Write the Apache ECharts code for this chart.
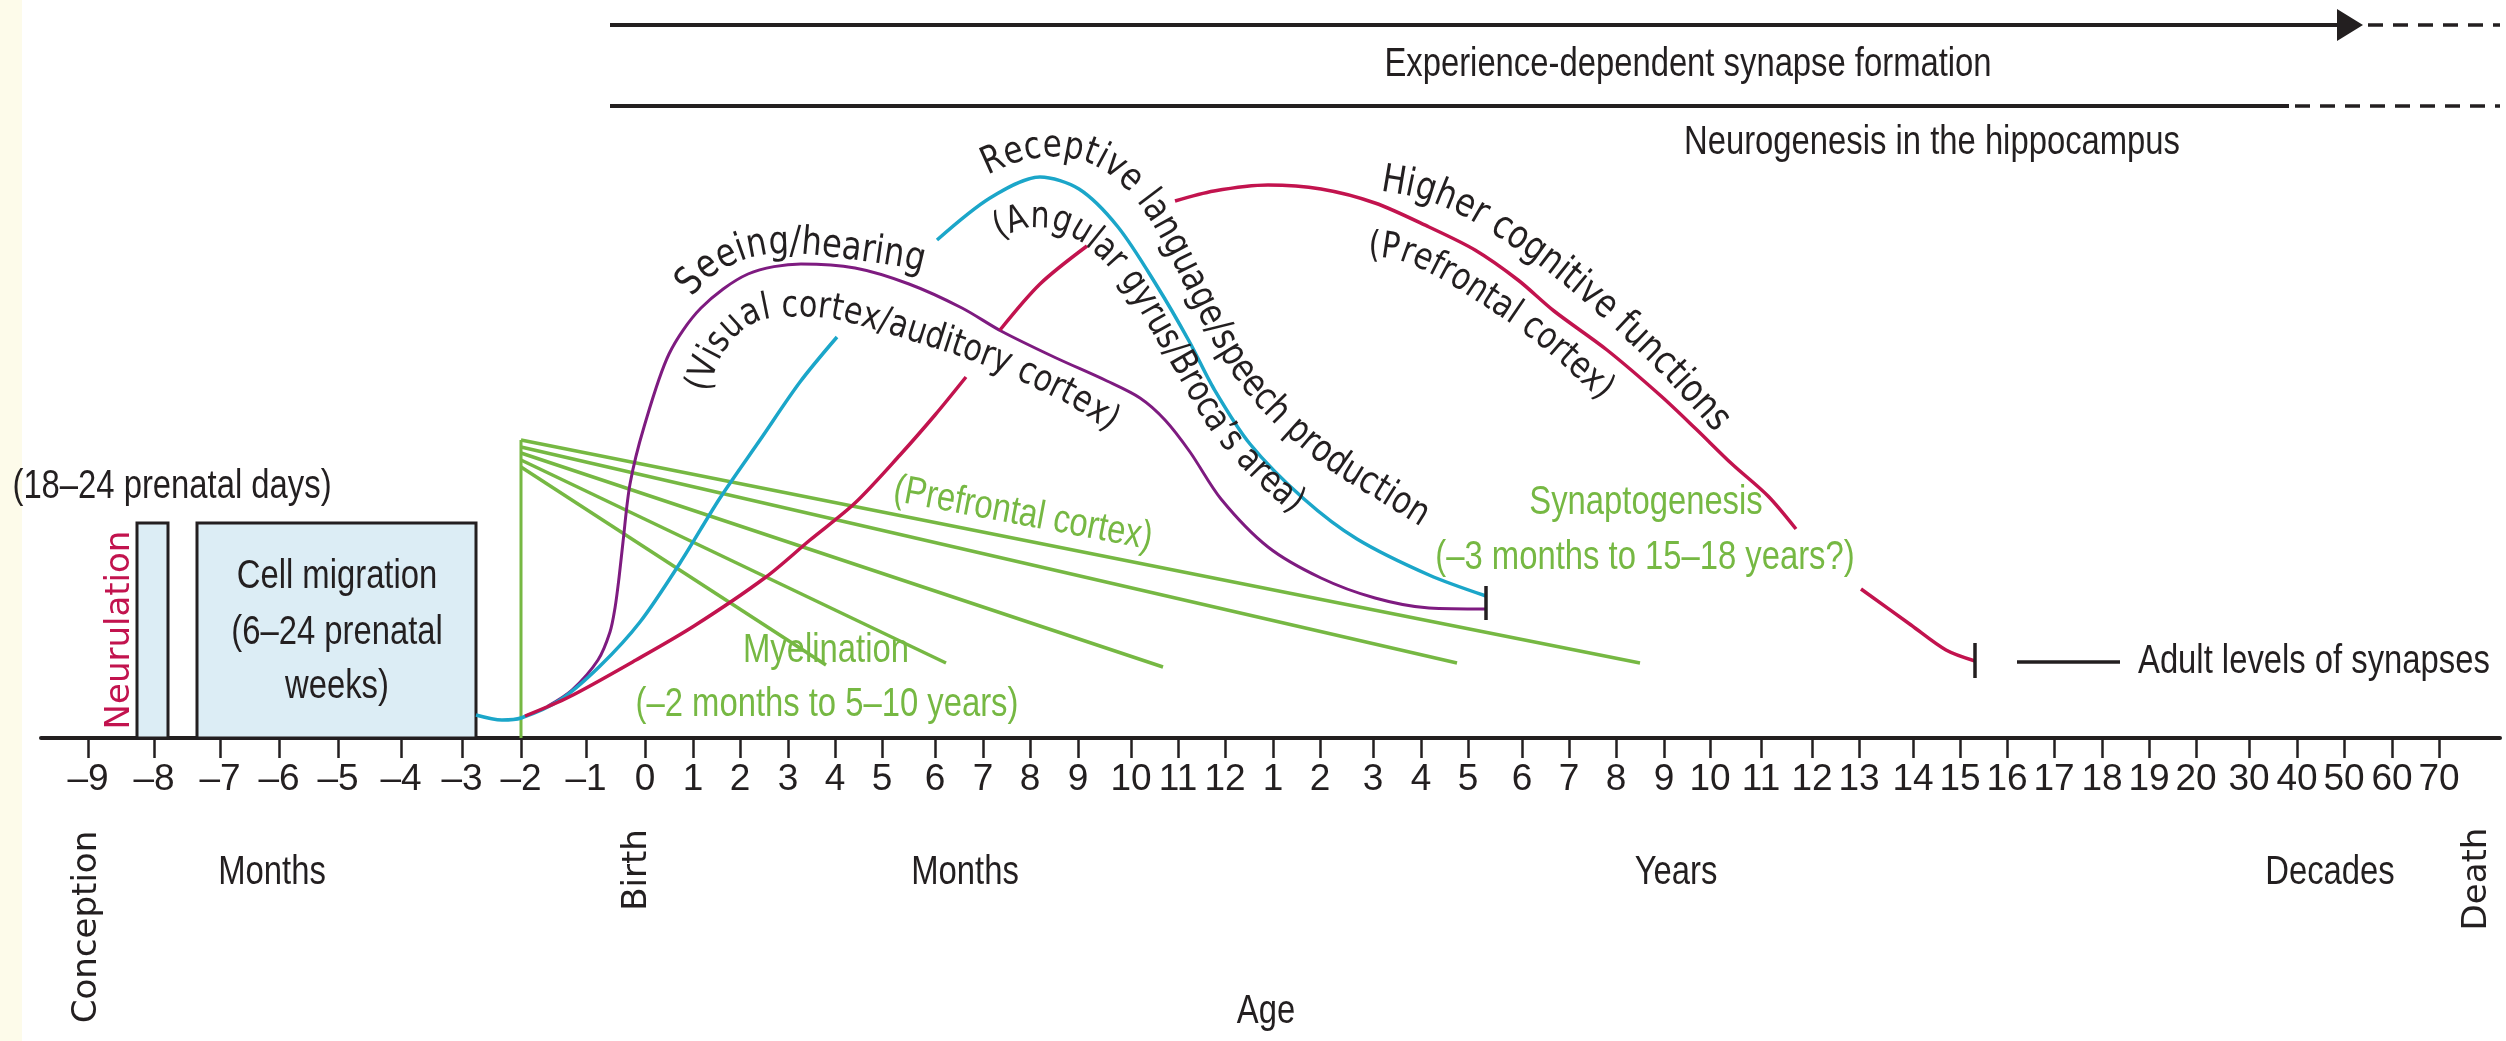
<!DOCTYPE html>
<html>
<head>
<meta charset="utf-8">
<script src="https://cdn.jsdelivr.net/npm/echarts@6/dist/echarts.min.js"></script>
<style>
  html, body { margin: 0; padding: 0; background: #fff; }
  #main { width: 2506px; height: 1041px; }
</style>
</head>
<body>
<div id="main"></div>
<script>
// x = position along the (schematic, non-linear) age axis, y = synapse level above baseline
const tickPos = [88, 154, 220, 279, 338, 401, 462, 521, 586, 645, 693, 740, 788, 835, 882, 935, 983, 1030,
  1078, 1131, 1178, 1225, 1273, 1320, 1373, 1421, 1468, 1522, 1569, 1616, 1664, 1710, 1761, 1812, 1859, 1913,
  1960, 2007, 2054, 2102, 2149, 2196, 2249, 2297, 2344, 2392, 2439];
const tickLabels = ['–9', '–8', '–7', '–6', '–5', '–4', '–3', '–2', '–1', '0', '1', '2', '3', '4', '5', '6', '7', '8',
  '9', '10', '11', '12', '1', '2', '3', '4', '5', '6', '7', '8', '9', '10', '11', '12', '13', '14',
  '15', '16', '17', '18', '19', '20', '30', '40', '50', '60', '70'];

// prenatal boxes: [start, end, height]
const boxes = [[137, 168, 215], [197, 476, 215]];

// seeing/hearing (visual/auditory cortex)
const seeing = [[548, 32], [572, 48], [598, 78], [610, 106], [615, 130], [619, 160], [623, 196], [630, 254],
  [644, 311], [669, 384], [701, 430], [748, 464], [801, 474], [855, 470], [909, 454], [962, 430], [1001, 407],
  [1054, 381], [1107, 357], [1140, 340], [1165, 318], [1190, 286], [1221, 239], [1268, 191], [1321, 160],
  [1375, 140], [1429, 130], [1486, 129]];

// receptive language (two pieces, broken by the label)
const language = [
  [[476, 23], [502, 18], [521, 20], [560, 38], [600, 72], [640, 116], [680, 175], [720, 240], [760, 298],
   [800, 356], [837, 401]],
  [[937, 498], [990, 540], [1040, 561], [1079, 549], [1118, 511], [1157, 452], [1189, 397], [1214, 349],
   [1250, 294], [1304, 239], [1357, 199], [1429, 163], [1486, 142]]
];

// higher cognitive functions (prefrontal cortex)
const cognitive = [
  [[525, 22], [569, 41], [636, 78], [694, 112], [766, 161], [810, 198], [855, 235], [900, 283], [935, 323],
   [966, 361]],
  [[1000, 408], [1040, 454], [1087, 492]],
  [[1175, 537], [1214, 547], [1268, 553], [1321, 549], [1375, 535], [1429, 511], [1475, 488], [1518, 458],
   [1554, 427], [1607, 388], [1661, 342], [1696, 309], [1732, 274], [1768, 242], [1796, 209]],
  [[1861, 149], [1911, 113], [1946, 88], [1975, 77]]
];

// myelination fan: start level on the -2 month line, end point
const myelinStart = [298, 291, 285, 278, 271];
const myelinEnd = [[1640, 75], [1457, 75], [1163, 71], [946, 75], [826, 73]];
const myelinStem = [[521, 0], [521, 298]];

const endBars = [[[1486, 118], [1486, 152]], [[1975, 60], [1975, 95]]];
const adultLine = [[2017, 76], [2120, 76]];
const experienceLine = [[610, 713], [2350, 713]];
const experienceDash = [[2368, 713], [2500, 713]];
const neuroLine = [[610, 632], [2289, 632]];
const neuroDash = [[2295, 632], [2500, 632]];

const PURPLE = '#7e1b80', CYAN = '#1ba6c9', RED = '#c2134e', GREEN = '#76b843', INK = '#231f20';
const SANS = "'Liberation Sans', Arial, sans-serif";
const WIDE = "'DejaVu Sans', 'Open Sans', sans-serif";
const SQUEEZE = 0.82;

const chart = echarts.init(document.getElementById('main'));

const series = [];
function addLine(data, color, width, extra) {
  series.push(Object.assign({
    type: 'line', data: data, symbol: 'none', silent: true, z: 3,
    lineStyle: { color: color, width: width }
  }, extra || {}));
}

series.push({
  type: 'custom', data: boxes, encode: { x: [0, 1], y: 2 }, silent: true, z: 1,
  renderItem: function (params, api) {
    const a = api.coord([api.value(0), api.value(2)]);
    const b = api.coord([api.value(1), 0]);
    return {
      type: 'rect',
      shape: { x: a[0], y: a[1], width: b[0] - a[0], height: b[1] - a[1] },
      style: { fill: '#dcedf5', stroke: INK, lineWidth: 3 }
    };
  }
});

addLine(myelinStem, GREEN, 3);
myelinEnd.forEach(function (e, i) { addLine([[521, myelinStart[i]], e], GREEN, 3.5); });

addLine(seeing, PURPLE, 3, { smooth: 0.3 });
language.forEach(function (s) { addLine(s, CYAN, 3.5, { smooth: 0.3 }); });
cognitive.forEach(function (s) { addLine(s, RED, 3.5, { smooth: 0.3 }); });

endBars.forEach(function (b) { addLine(b, INK, 3.5); });
addLine(adultLine, INK, 3.5);

addLine([experienceLine[0], {
  value: experienceLine[1], symbol: 'triangle', symbolRotate: -90, symbolSize: [32, 26],
  itemStyle: { color: INK }
}], INK, 4, { showSymbol: true, symbol: 'none' });
addLine(experienceDash, INK, 3.5, { lineStyle: { color: INK, width: 3.5, type: [15, 10] } });
addLine(neuroLine, INK, 4);
addLine(neuroDash, INK, 3.5, { lineStyle: { color: INK, width: 3.5, type: [15, 10] } });

// text laid along a curve (annotation layout, in pixels)
const measureCtx = document.createElement('canvas').getContext('2d');
function textOnPath(str, pts, family, baseSize, fill) {
  const dense = [];
  for (let i = 0; i < pts.length - 1; i++) {
    const p0 = pts[Math.max(i - 1, 0)], p1 = pts[i], p2 = pts[i + 1], p3 = pts[Math.min(i + 2, pts.length - 1)];
    for (let j = 0; j < 20; j++) {
      const t = j / 20, t2 = t * t, t3 = t2 * t;
      const cr = function (a, b, c, d) {
        return 0.5 * (2 * b + (-a + c) * t + (2 * a - 5 * b + 4 * c - d) * t2 + (-a + 3 * b - 3 * c + d) * t3);
      };
      dense.push([cr(p0[0], p1[0], p2[0], p3[0]), cr(p0[1], p1[1], p2[1], p3[1])]);
    }
  }
  dense.push(pts[pts.length - 1]);
  const cum = [0];
  for (let i = 1; i < dense.length; i++) {
    cum.push(cum[i - 1] + Math.hypot(dense[i][0] - dense[i - 1][0], dense[i][1] - dense[i - 1][1]));
  }
  const L = cum[cum.length - 1];
  measureCtx.font = baseSize + 'px ' + family;
  const chars = Array.from(str);
  const w0 = chars.map(function (c) { return measureCtx.measureText(c).width * SQUEEZE; });
  const W = w0.reduce(function (a, b) { return a + b; }, 0);
  const k = L / W;
  const fs = baseSize * k;
  const out = [];
  let acc = 0;
  chars.forEach(function (c, i) {
    const w = w0[i] * k;
    const s = acc + w / 2;
    acc += w;
    let j = 1;
    while (j < cum.length - 1 && cum[j] < s) j++;
    const a = dense[j - 1], b = dense[j];
    const f = (s - cum[j - 1]) / ((cum[j] - cum[j - 1]) || 1);
    const x = a[0] + (b[0] - a[0]) * f, y = a[1] + (b[1] - a[1]) * f;
    const ang = Math.atan2(b[1] - a[1], b[0] - a[0]);
    const off = fs * 0.3;
    out.push({
      type: 'text', x: x + Math.sin(ang) * off, y: y - Math.cos(ang) * off, rotation: -ang, scaleX: SQUEEZE,
      silent: true, z: 10,
      style: { text: c, fontSize: fs, fontFamily: family, fill: fill, align: 'center', verticalAlign: 'middle' }
    });
  });
  return out;
}

function label(text, x, y, opts) {
  opts = opts || {};
  return {
    type: 'text', x: x, y: y, rotation: opts.rotation || 0, scaleX: opts.scaleX || SQUEEZE,
    silent: true, z: 10,
    style: {
      text: text, fontSize: opts.size || 40, fontFamily: opts.family || SANS, fill: opts.color || INK,
      align: opts.align || 'center', verticalAlign: 'middle'
    }
  };
}

const vertical = { rotation: Math.PI / 2, family: WIDE, size: 34, scaleX: 1 };

const graphics = [
  { type: 'rect', shape: { x: 0, y: 0, width: 22, height: 1041 }, style: { fill: '#fdfbea' }, silent: true, z: 0 },
  label('(18–24 prenatal days)', 172, 487),
  label('Cell migration', 337, 577),
  label('(6–24 prenatal', 337, 633),
  label('weeks)', 337, 687),
  label('Neurulation', 120, 630, Object.assign({}, vertical, { color: RED })),
  label('Conception', 87, 927, vertical),
  label('Birth', 637, 870, vertical),
  label('Death', 2477, 879, vertical),
  label('Months', 272, 873),
  label('Months', 965, 873),
  label('Years', 1676, 873),
  label('Decades', 2330, 873),
  label('Age', 1266, 1012),
  label('Experience-dependent synapse formation', 1688, 65),
  label('Neurogenesis in the hippocampus', 1932, 143),
  label('Adult levels of synapses', 2138, 662, { align: 'left' }),
  label('(Prefrontal cortex)', 1023, 514, { color: GREEN, rotation: -0.187 }),
  label('Myelination', 826, 651, { color: GREEN }),
  label('(–2 months to 5–10 years)', 827, 705, { color: GREEN }),
  label('Synaptogenesis', 1646, 503, { color: GREEN }),
  label('(–3 months to 15–18 years?)', 1645, 558, { color: GREEN })
].concat(
  textOnPath('Seeing/hearing',
    [[693, 298], [712, 278], [735, 265], [760, 257], [790, 255], [820, 257], [860, 262], [900, 268], [922, 273]],
    WIDE, 30, INK),
  textOnPath('(Visual cortex/auditory cortex)',
    [[710, 393], [720, 362], [737, 337], [760, 322], [790, 318], [830, 320], [875, 331], [920, 345], [960, 358],
     [1000, 373], [1040, 392], [1075, 410], [1108, 433]],
    WIDE, 30, INK),
  textOnPath('Receptive language/speech production',
    [[988, 176], [1020, 163], [1055, 158], [1090, 165], [1120, 185], [1145, 215], [1165, 250], [1185, 290],
     [1205, 330], [1228, 370], [1255, 405], [1290, 440], [1330, 472], [1375, 500], [1420, 528]],
    WIDE, 30, INK),
  textOnPath('(Angular gyrus/Broca’s area)',
    [[1000, 240], [1025, 230], [1050, 230], [1075, 240], [1098, 258], [1118, 280], [1135, 305], [1152, 335],
     [1170, 365], [1190, 400], [1212, 435], [1238, 465], [1265, 492], [1292, 515]],
    WIDE, 30, INK),
  textOnPath('Higher cognitive functions',
    [[1380, 192], [1420, 200], [1460, 216], [1500, 240], [1540, 268], [1580, 300], [1620, 336], [1660, 375],
     [1700, 418], [1714, 434]],
    WIDE, 30, INK),
  textOnPath('(Prefrontal cortex)',
    [[1368, 258], [1400, 262], [1440, 280], [1480, 305], [1520, 332], [1555, 360], [1585, 388], [1600, 402]],
    WIDE, 30, INK)
);

const option = {
  animation: false,
  backgroundColor: '#ffffff',
  grid: { left: 41, right: 6, top: 0, bottom: 303 },
  xAxis: {
    type: 'value', min: 41, max: 2500,
    splitLine: { show: false },
    axisLine: { lineStyle: { color: INK, width: 4 } },
    axisTick: { customValues: tickPos, length: 20, lineStyle: { color: INK, width: 2.5 } },
    axisLabel: {
      customValues: tickPos, margin: 23, fontSize: 37, fontFamily: SANS, color: INK,
      formatter: function (v) {
        const i = tickPos.indexOf(v);
        return i < 0 ? '' : tickLabels[i];
      }
    }
  },
  yAxis: { type: 'value', min: 0, max: 738, show: false },
  series: series,
  graphic: graphics
};
chart.setOption(option);
</script>
</body>
</html>
